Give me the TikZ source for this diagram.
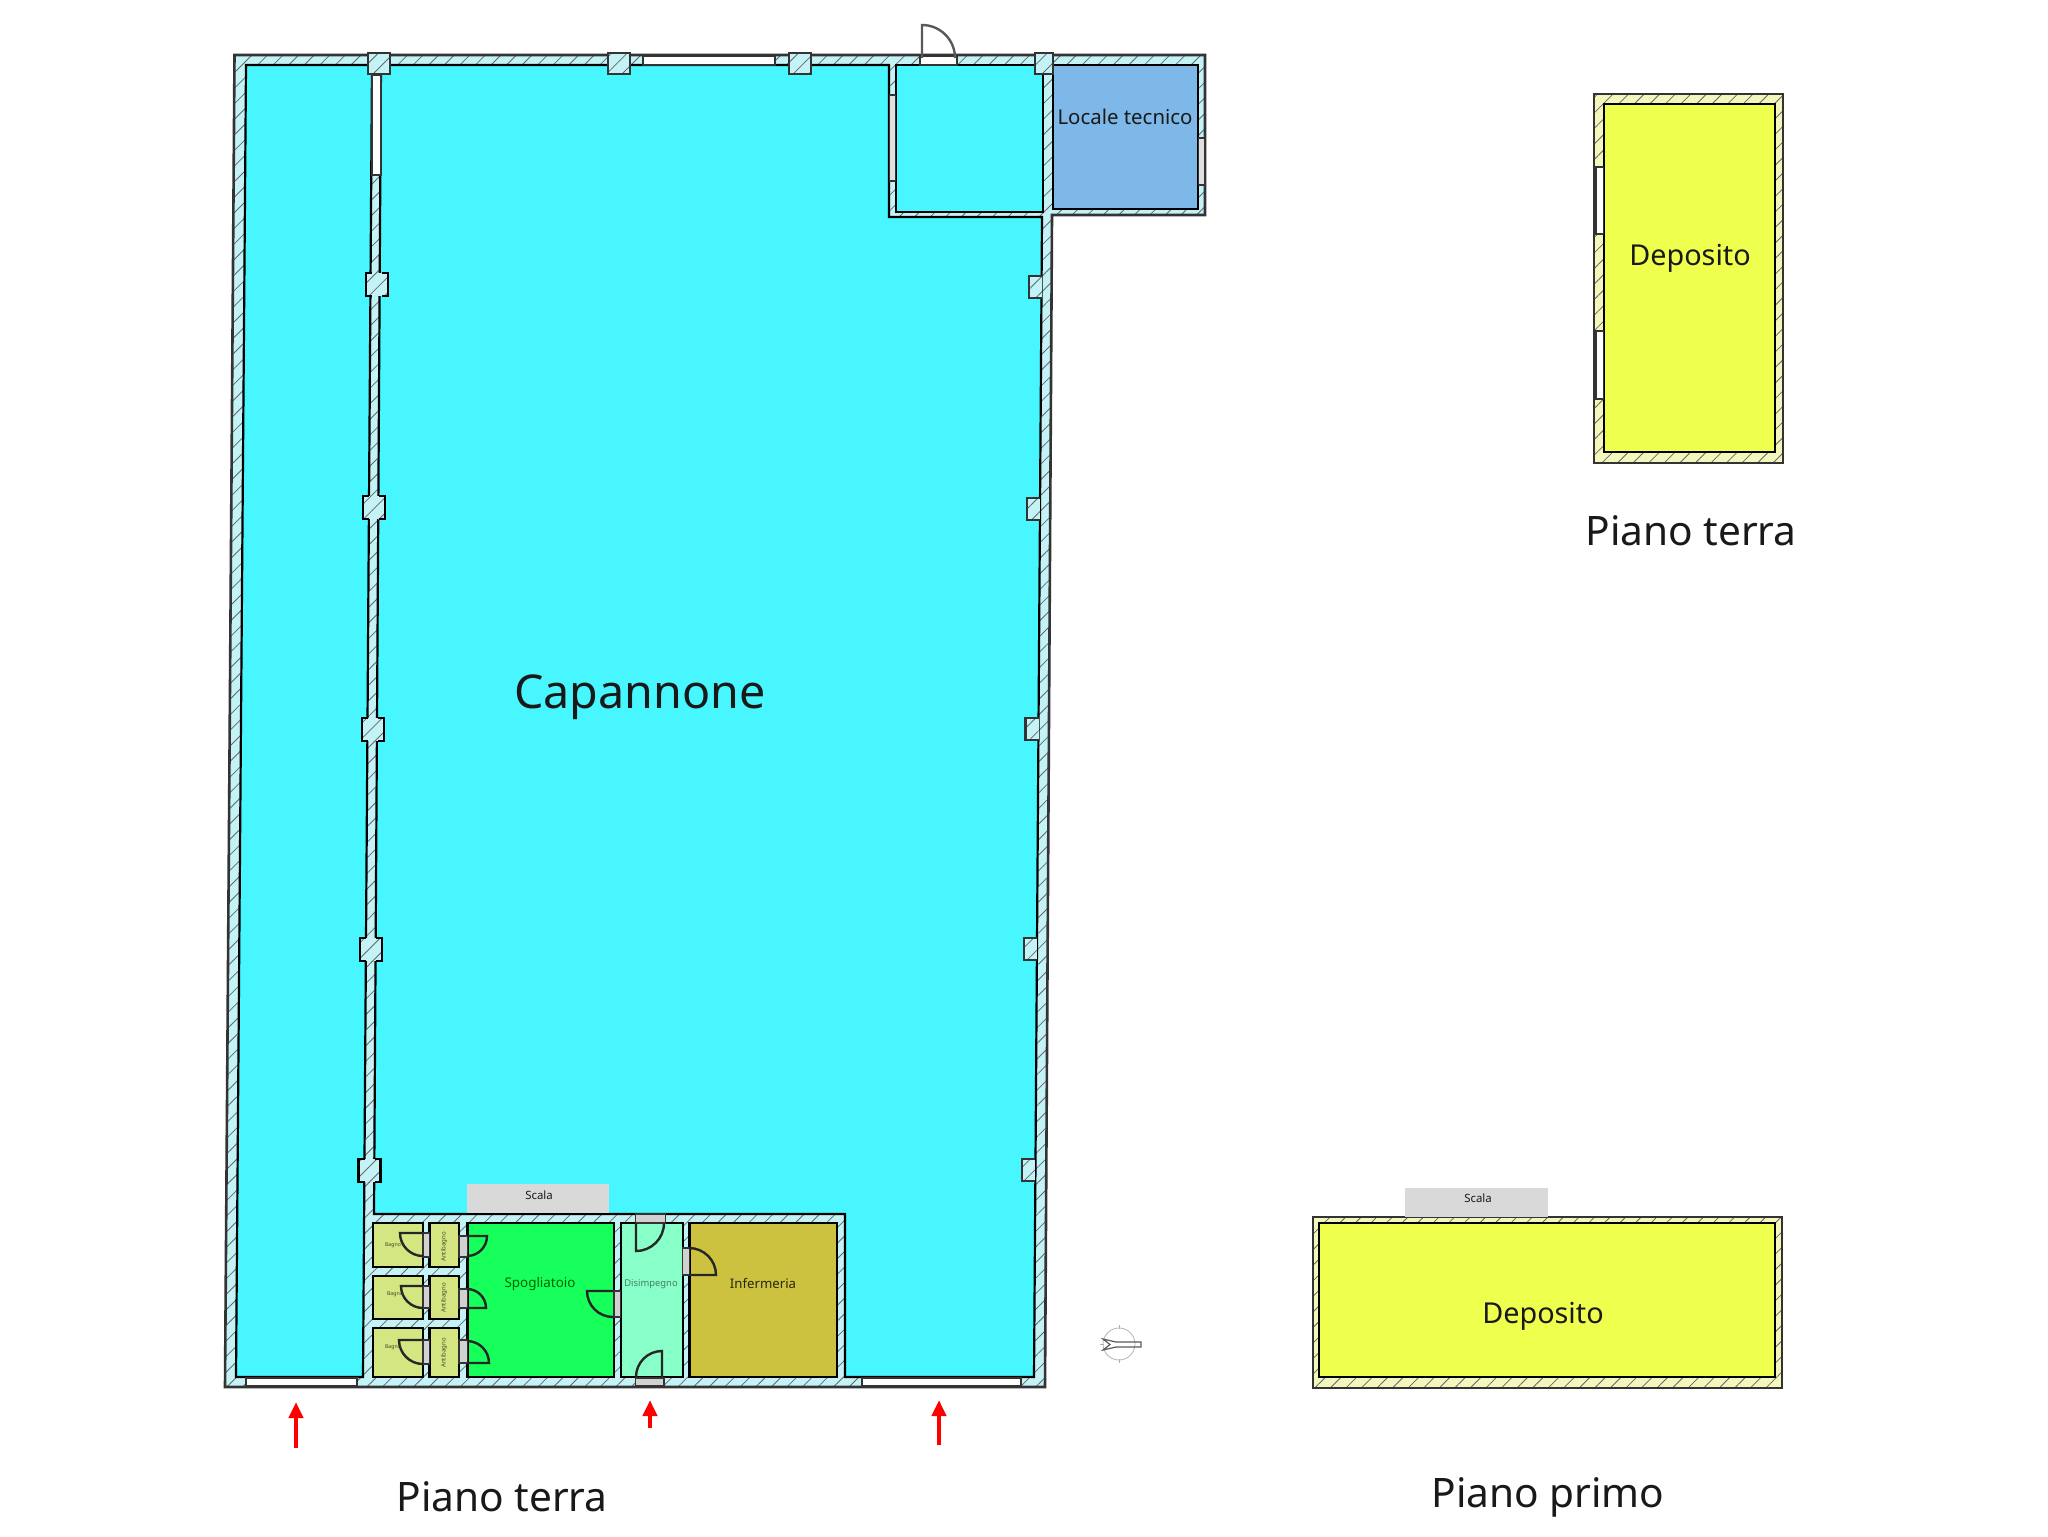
\documentclass[tikz,border=0pt]{standalone}
\usepackage{fontspec}
\setmainfont{Noto Sans}
\usetikzlibrary{arrows.meta,patterns.meta}
\definecolor{ciano}{HTML}{47F6FF}
\definecolor{muro}{HTML}{C4F3F7}
\definecolor{murogiallo}{HTML}{F4F7BC}
\definecolor{tecnico}{HTML}{7DB8E8}
\definecolor{bagno}{HTML}{D4E681}
\definecolor{verde}{HTML}{16FF5A}
\definecolor{menta}{HTML}{88FFC8}
\definecolor{ocra}{HTML}{CCC240}
\definecolor{giallo}{HTML}{EEFF4D}
\tikzset{
  wallmain/.style={draw=black!80,line width=1.3pt,preaction={fill=muro},
    pattern={Lines[angle=45,distance=5.5pt,line width=0.4pt]},pattern color=black!60},
  wallyellow/.style={wallmain,preaction={fill=murogiallo}},
  room/.style={draw=black,line width=1.1pt},
  window/.style={draw=black!80,fill=white,line width=0.8pt},
  doorgap/.style={draw=black!80,fill=black!18,line width=0.8pt},
  leaf/.style={draw=black!85,line width=1.2pt},
  entry/.style={red,line width=2pt,-{Triangle[width=7pt,length=8pt]}},
  scala/.style={fill=black!15,draw=none},
  txt/.style={inner sep=0pt,black!90},
}
\newcommand{\door}[5]{\draw[leaf] (#1,#2) -- +(#3:#5) arc[start angle=#3,end angle=#4,radius=#5];}
\begin{document}
\begin{tikzpicture}[x=0.5pt,y=-0.5pt]
  \useasboundingbox (0,0) rectangle (2048,1536);
  % Capannone
  \draw[wallmain] (234.5,55) -- (1205,55) -- (1205,215) -- (1052,215) -- (1045,1387) -- (225,1387) -- cycle;
  \draw[room,fill=ciano] (246,65) -- (372,65) -- (363,1377) -- (236,1377) -- cycle;
  \draw[room,fill=ciano] (381,65) -- (889,65) -- (889,217) -- (1042,217) -- (1034,1377) -- (845,1377) -- (845,1214) -- (374,1214) -- cycle;
  \draw[room,fill=ciano] (896,65) rectangle (1043,212);
  \draw[room,fill=tecnico] (1053,65) rectangle (1198,209);
  % Pilastri
  \foreach \x/\y in {377/285,374/508,373/730,371/950,369.5/1171}{
    \fill[wallmain,draw=none] (\x-11,\y-12) rectangle (\x+11,\y+11);
    \draw[room] (\x-5,\y-12) -- (\x-11,\y-12) -- (\x-11,\y+11) -- (\x-5,\y+11);
    \draw[room] (\x+5,\y-12) -- (\x+11,\y-12) -- (\x+11,\y+11) -- (\x+5,\y+11);
  }
  \foreach \x/\y in {1041/287,1039/509,1037.5/729,1036/949,1034/1170}{
    \draw[wallmain,line width=1.1pt] (\x+1,\y-11) -- (\x-12,\y-11) -- (\x-12,\y+11) -- (\x+1,\y+11);
  }
  \foreach \x in {379,619,800}{
    \draw[wallmain,line width=1.1pt] (\x-11,53) rectangle (\x+11,74);
  }
  \draw[wallmain,line width=1.1pt] (1035,53) rectangle (1053,74);
  % Finestre
  \draw[window] (372,75) rectangle (381,175);
  \draw[window] (643,56) rectangle (775,65);
  \draw[window] (920,56) rectangle (957,65);
  \draw[window] (246,1378) rectangle (357,1386);
  \draw[window] (862,1378) rectangle (1021,1386);
  \draw[doorgap,fill=black!12] (889.5,95) rectangle (895.5,181);
  \draw[doorgap,fill=black!12] (1198.5,138) rectangle (1204.5,185);
  % Blocco servizi
  \foreach \a/\b in {1223/1267,1276/1319,1328/1377}{
    \draw[room,fill=bagno] (373,\a) rectangle (423,\b);
    \draw[room,fill=bagno] (429.5,\a) rectangle (459,\b);
  }
  \draw[room,fill=verde] (467.5,1223) rectangle (613.8,1377);
  \draw[room,fill=menta] (620.6,1223) rectangle (682.6,1377);
  \draw[room,fill=ocra] (689.5,1223) rectangle (837,1377);
  % Varchi
  \foreach \xa/\ya/\xb/\yb in {423/1233/429.5/1257,423/1286/429.5/1308,423/1340/429.5/1364,
      459/1236/467.5/1257,459/1289/467.5/1308,459/1340/467.5/1363,
      613.8/1291/620.6/1317,682.6/1248/689.5/1275,635.5/1214/665.5/1223,635.5/1378/663.7/1386}{
    \draw[doorgap] (\xa,\ya) rectangle (\xb,\yb);
  }
  % Porte
  \door{423}{1233}{180}{90}{23}
  \door{423}{1286}{180}{90}{22}
  \door{423}{1340}{180}{90}{24}
  \door{467}{1236}{0}{90}{20}
  \door{467}{1308}{0}{-90}{19}
  \door{467}{1363}{0}{-90}{22}
  \door{613}{1291}{180}{90}{26}
  \door{636}{1223}{90}{0}{28}
  \door{662}{1377}{-90}{-180}{26}
  \door{689}{1275}{0}{-90}{27}
  \draw[leaf,draw=black!65] (922,58) -- +(-90:33) arc[start angle=-90,end angle=0,radius=33];
  % Scale
  \node[scala,minimum width=71pt,minimum height=14.5pt,anchor=north west,inner sep=0pt] (scalaA) at (466.5,1184) {};
  \node[scala,minimum width=71.5pt,minimum height=14.5pt,anchor=north west,inner sep=0pt] (scalaB) at (1405,1188) {};
  \node[txt,font=\fontsize{5.7}{6}\selectfont] (lblScalaA) at (539,1195) {Scala};
  \node[txt,font=\fontsize{5.7}{6}\selectfont] (lblScalaB) at (1478,1198) {Scala};
  % Depositi
  \draw[wallyellow] (1594,94) rectangle (1783,463);
  \draw[room,fill=giallo] (1604,104) rectangle (1775,452);
  \foreach \a/\b in {167/234,331/399}{\draw[window] (1596,\a) rectangle (1603.5,\b);}
  \draw[wallyellow] (1313,1217) rectangle (1782,1388);
  \draw[room,fill=giallo] (1319,1223) rectangle (1775,1377);
  \draw[scala,draw=none] (1405,1210) rectangle (1548,1217);
  % Frecce
  \foreach \x/\a/\b in {296/1448/1402,650/1428/1400,939/1445/1400}{
    \draw[entry] (\x,\a) -- (\x,\b);
  }
  % Nord
  \draw[black!30,line width=0.4pt] (1119,1344) circle (16);
  \foreach \a in {90,180,270}{\draw[black!30,line width=0.4pt] (1119,1344) ++(\a:15) -- ++(\a:4);}
  \draw[black!65,line width=0.6pt] (1103,1339) -- (1116,1342) -- (1141,1342) -- (1141,1347) -- (1116,1347) -- (1103,1350) -- (1110,1344.5) -- cycle;
  % Testi
  \node[txt,font=\fontsize{23.3}{24}\selectfont] (capannone) at (640,697) {Capannone};
  \node[txt,font=\fontsize{10.2}{11}\selectfont] (tecnico) at (1125,117) {Locale tecnico};
  \node[txt,font=\fontsize{14.4}{15}\selectfont] (depositoA) at (1690,258) {Deposito};
  \node[txt,font=\fontsize{14.4}{15}\selectfont] (depositoB) at (1543,1316) {Deposito};
  \node[txt,font=\fontsize{6.7}{7}\selectfont,black!60!green] (spogliatoio) at (540,1284) {Spogliatoio};
  \node[txt,font=\fontsize{6.6}{7}\selectfont,black!80!ocra] (infermeria) at (763,1283) {Infermeria};
  \node[txt,font=\fontsize{4.7}{5}\selectfont,black!50!menta] (disimpegno) at (651,1284) {Disimpegno};
  \foreach \x/\y [count=\i] in {393/1245,395/1294,393/1347}{
    \node[txt,font=\fontsize{2.6}{3}\selectfont,black!70!bagno] (bagno\i) at (\x,\y) {Bagno};
  }
  \foreach \y [count=\i] in {1247,1298,1353}{
    \node[txt,rotate=90,font=\fontsize{3}{3}\selectfont,black!70!bagno] (antibagno\i) at (444,\y) {Antibagno};
  }
  \node[txt,font=\fontsize{20.3}{21}\selectfont] (terraA) at (502,1497) {Piano terra};
  \node[txt,font=\fontsize{20.3}{21}\selectfont] (terraB) at (1691,531) {Piano terra};
  \node[txt,font=\fontsize{20.3}{21}\selectfont] (primo) at (1548,1497) {Piano primo};
\end{tikzpicture}
\end{document}
